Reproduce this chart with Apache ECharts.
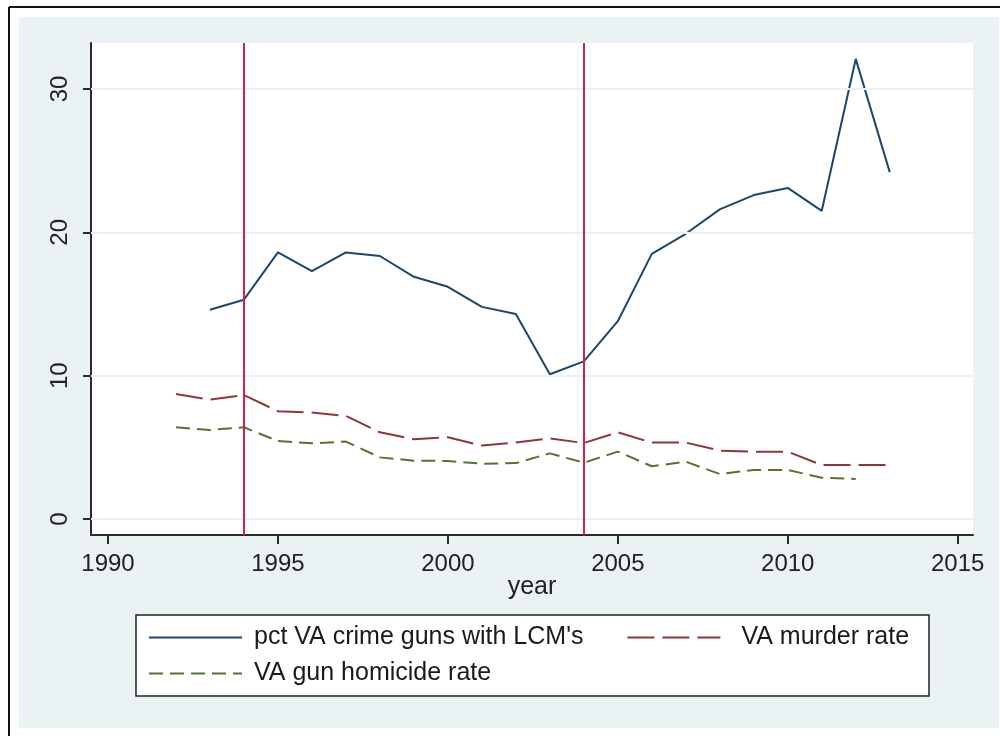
<!DOCTYPE html>
<html>
<head>
  <meta charset="utf-8">
  <title>VA crime guns with LCM's</title>
  <script src="https://cdn.jsdelivr.net/npm/echarts@6/dist/echarts.min.js"></script>
  <style>
    html, body { margin: 0; padding: 0; background: #ffffff; }
    #main { width: 1000px; height: 736px; }
  </style>
</head>
<body>
<div id="main"></div>
<script>
  // data
  const years = [1992, 1993, 1994, 1995, 1996, 1997, 1998, 1999, 2000, 2001, 2002,
    2003, 2004, 2005, 2006, 2007, 2008, 2009, 2010, 2011, 2012, 2013]
  const lcmPct = [null, 14.6, 15.3, 18.6, 17.3, 18.6, 18.35, 16.9, 16.2, 14.8, 14.3,
    10.1, 11.0, 13.8, 18.5, 19.9, 21.6, 22.6, 23.1, 21.5, 32.1, 24.2]
  const murderRate = [8.72, 8.33, 8.64, 7.52, 7.43, 7.19, 6.05, 5.56, 5.70, 5.12, 5.33,
    5.63, 5.30, 6.05, 5.33, 5.33, 4.77, 4.70, 4.70, 3.77, 3.77, 3.77]
  const gunHomRate = [6.40, 6.21, 6.40, 5.44, 5.28, 5.40, 4.30, 4.07, 4.05, 3.86, 3.90,
    4.58, 3.93, 4.70, 3.68, 4.00, 3.14, 3.42, 3.42, 2.88, 2.79, null]
  const xTicks = [1990, 1995, 2000, 2005, 2010, 2015]
  const yTicks = [0, 10, 20, 30]
  const policyYears = [1994, 2004]
  const names = ["pct VA crime guns with LCM's", 'VA murder rate', 'VA gun homicide rate']

  const font = "'Liberation Sans', Arial, sans-serif"
  const bg = '#eaf2f3'

  function pairs (vals) {
    return years.map((y, i) => [y, vals[i]])
  }

  let chart = echarts.init(document.getElementById('main'), null, { renderer: 'canvas' })

  let option = {
    animation: false,
    backgroundColor: bg,
    textStyle: { fontFamily: font },
    grid: {
      left: 91,
      right: 27,
      top: 43,
      bottom: 201,
      show: true,
      backgroundColor: '#ffffff',
      borderWidth: 0,
      outerBoundsMode: 'none'
    },
    xAxis: {
      type: 'value',
      min: 1989.5,
      max: 2015.45,
      name: 'year',
      nameLocation: 'middle',
      nameGap: 40,
      nameMoveOverlap: false,
      nameTextStyle: { fontSize: 25, color: '#222', fontFamily: font },
      axisLine: { onZero: false, lineStyle: { color: '#2b2b2b', width: 2 } },
      axisTick: { customValues: xTicks, length: 9, lineStyle: { color: '#2b2b2b', width: 2 } },
      axisLabel: {
        customValues: xTicks,
        margin: 17,
        fontSize: 24,
        color: '#222',
        fontFamily: font,
        formatter: v => String(v) // no thousands comma
      },
      splitLine: { show: false }
    },
    yAxis: {
      type: 'value',
      min: -1.116,
      max: 33.21,
      axisLine: { show: true, onZero: false, lineStyle: { color: '#2b2b2b', width: 2 } },
      axisTick: { show: true, customValues: yTicks, length: 8, lineStyle: { color: '#2b2b2b', width: 2 } },
      axisLabel: { customValues: yTicks, rotate: 90, margin: 19, fontSize: 24, color: '#222', fontFamily: font },
      splitLine: { show: false }
    },
    legend: {
      z: 10,
      left: 148,
      top: 625,
      width: 800,
      padding: 0,
      itemGap: 11,
      itemWidth: 93,
      itemHeight: 24,
      selectedMode: false,
      itemStyle: { color: 'rgba(0,0,0,0)', borderWidth: 0 },
      textStyle: { fontSize: 25, color: '#1a1a1a', fontFamily: font, lineHeight: 24 },
      data: [
        { name: names[0], textStyle: { padding: [0, 32, 0, 7] } },
        { name: names[1], textStyle: { padding: [0, 0, 0, 16] } },
        { name: names[2], textStyle: { padding: [0, 0, 0, 7] } }
      ]
    },
    graphic: [
      // white margin round the light panel, and the dark frame
      { type: 'rect', shape: { x: 0, y: 0, width: 1000, height: 17 }, style: { fill: '#fff' }, silent: true },
      { type: 'rect', shape: { x: 0, y: 0, width: 19, height: 736 }, style: { fill: '#fff' }, silent: true },
      { type: 'rect', shape: { x: 0, y: 728, width: 1000, height: 8 }, style: { fill: '#fff' }, silent: true },
      { type: 'rect', shape: { x: 999, y: 0, width: 1, height: 736 }, style: { fill: '#fff' }, silent: true },
      { type: 'line', shape: { x1: 9, y1: 7, x2: 9, y2: 736 }, style: { stroke: '#111', lineWidth: 2 }, silent: true },
      { type: 'line', shape: { x1: 9, y1: 7, x2: 1000, y2: 7 }, style: { stroke: '#111', lineWidth: 2 }, silent: true },
      // legend box
      { type: 'rect', shape: { x: 136, y: 615, width: 793, height: 81 }, style: { fill: '#fff', stroke: '#222', lineWidth: 1.5 }, silent: true }
    ],
    series: [
      {
        name: names[0],
        type: 'line',
        symbol: 'none',
        data: pairs(lcmPct),
        lineStyle: { color: '#1a476f', width: 2 },
        itemStyle: { color: '#1a476f' },
        z: 3,
        markLine: {
          silent: true,
          symbol: 'none',
          label: { show: false },
          lineStyle: { color: '#eaf0f3', width: 2, type: 'solid' },
          data: yTicks.map(v => ({ yAxis: v }))
        }
      },
      {
        name: names[1],
        type: 'line',
        symbol: 'none',
        data: pairs(murderRate),
        lineStyle: { color: '#90353b', width: 2, type: [27, 8] },
        itemStyle: { color: '#90353b' },
        z: 3
      },
      {
        name: names[2],
        type: 'line',
        symbol: 'none',
        data: pairs(gunHomRate),
        lineStyle: { color: '#55752f', width: 2, type: [14, 7] },
        itemStyle: { color: '#55752f' },
        z: 3,
        // the two red reference lines
        markLine: {
          silent: true,
          symbol: 'none',
          label: { show: false },
          lineStyle: { color: '#d91f4b', width: 2, type: 'solid' },
          data: policyYears.map(v => ({ xAxis: v }))
        }
      }
    ]
  }

  chart.setOption(option)
</script>
</body>
</html>
